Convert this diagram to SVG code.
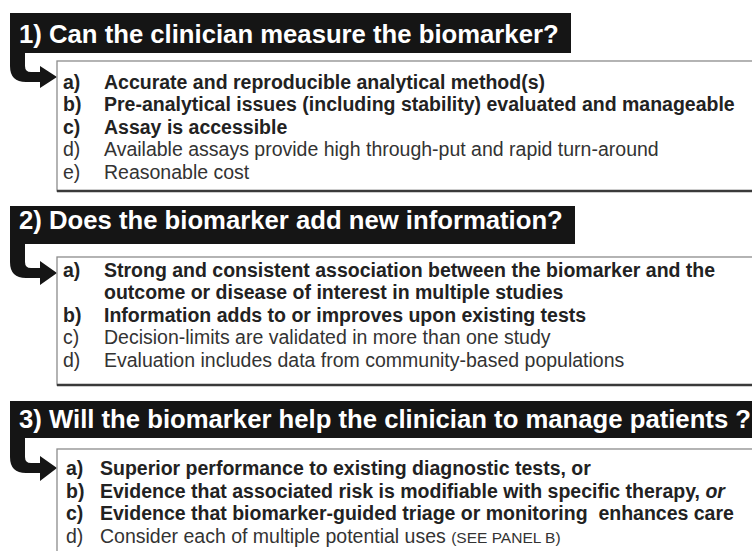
<svg xmlns="http://www.w3.org/2000/svg" width="752" height="551" viewBox="0 0 752 551">
<style>
.hdr{fill:#151515}
.ht{font-family:"Liberation Sans",Arial,sans-serif;font-weight:bold;font-size:25.7px;fill:#ffffff}
.box{fill:#ffffff;stroke:#8c8c8c;stroke-width:1.3}
.shadow{stroke:#3a3a3a;stroke-width:2.6;fill:none}
.b{font-family:"Liberation Sans",Arial,sans-serif;font-weight:bold;font-size:19.5px;fill:#222222}
.r{font-family:"Liberation Sans",Arial,sans-serif;font-size:19.5px;fill:#333333}
.sm{font-size:15.5px}
.arrow{fill:#151515}
</style>
<rect width="752" height="551" fill="#ffffff"/>
<g id="connectors">
<path class="arrow" d="M10,52 V66 Q10,82 26,82 H40 V88 L57,77 L40,66 V72 H31 Q25,72 25,66 V52 Z"/>
<path class="arrow" d="M10,242 V262 Q10,278 26,278 H40 V285 L57,273 L40,261 V268 H31 Q25,268 25,262 V242 Z"/>
<path class="arrow" d="M10,437 V457 Q10,473 26,473 H40 V481 L57,468 L40,456 V463 H31 Q25,463 25,457 V437 Z"/>
</g>
<g id="header1">
<rect class="hdr" x="10" y="13" width="561" height="40"/>
<text class="ht" x="19" y="43">1) Can the clinician measure the biomarker?</text>
</g>
<g id="box1">
<rect class="box" x="57" y="61" width="720" height="130"/>
<line class="shadow" x1="57" y1="191" x2="760" y2="191"/>
<text class="b" x="63" y="89">a)</text><text class="b" x="104" y="89">Accurate and reproducible analytical method(s)</text>
<text class="b" x="63" y="111">b)</text><text class="b" x="104" y="111">Pre-analytical issues (including stability) evaluated and manageable</text>
<text class="b" x="63" y="133.5">c)</text><text class="b" x="104" y="133.5">Assay is accessible</text>
<text class="r" x="63" y="156">d)</text><text class="r" x="104" y="156">Available assays provide high through-put and rapid turn-around</text>
<text class="r" x="63" y="178.5">e)</text><text class="r" x="104" y="178.5">Reasonable cost</text>
</g>
<g id="header2">
<rect class="hdr" x="10" y="206" width="565" height="38"/>
<text class="ht" x="19" y="229">2) Does the biomarker add new information?</text>
</g>
<g id="box2">
<rect class="box" x="57" y="257" width="720" height="128"/>
<line class="shadow" x1="57" y1="385" x2="760" y2="385"/>
<text class="b" x="63" y="277">a)</text><text class="b" x="104" y="277">Strong and consistent association between the biomarker and the</text>
<text class="b" x="104" y="299">outcome or disease of interest in multiple studies</text>
<text class="b" x="63" y="321.5">b)</text><text class="b" x="104" y="321.5">Information adds to or improves upon existing tests</text>
<text class="r" x="63" y="344">c)</text><text class="r" x="104" y="344">Decision-limits are validated in more than one study</text>
<text class="r" x="63" y="366.5">d)</text><text class="r" x="104" y="366.5">Evaluation includes data from community-based populations</text>
</g>
<g id="header3">
<rect class="hdr" x="10" y="401" width="750" height="37"/>
<text class="ht" x="19" y="428">3) Will the biomarker help the clinician to manage patients ?</text>
</g>
<g id="box3">
<rect class="box" x="57" y="449" width="720" height="120"/>
<text class="b" x="66" y="475">a)</text><text class="b" x="100" y="475">Superior performance to existing diagnostic tests, or</text>
<text class="b" x="66" y="497.5">b)</text><text class="b" x="100" y="497.5">Evidence that associated risk is modifiable with specific therapy, <tspan font-style="italic">or</tspan></text>
<text class="b" x="66" y="520">c)</text><text class="b" x="100" y="520" xml:space="preserve">Evidence that biomarker-guided triage or monitoring  enhances care</text>
<text class="r" x="66" y="542.5">d)</text><text class="r" x="100" y="542.5">Consider each of multiple potential uses <tspan class="sm">(SEE PANEL B)</tspan></text>
</g>
</svg>
